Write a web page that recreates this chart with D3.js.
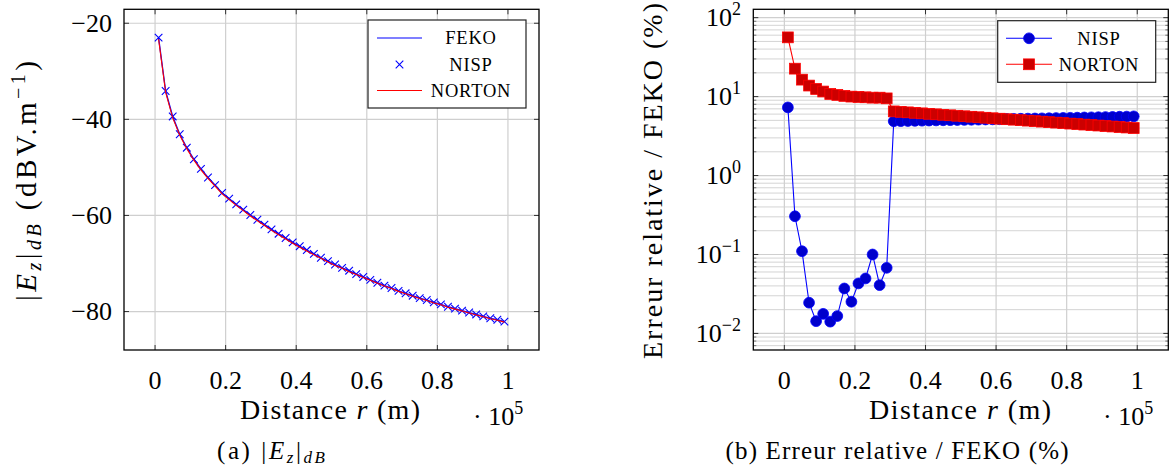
<!DOCTYPE html>
<html><head><meta charset="utf-8">
<script src="https://cdn.jsdelivr.net/npm/d3@7"></script>
<style>
body{margin:0;background:#fff}
svg{display:block}
</style>
</head><body>
<svg id="c" width="1170" height="471" font-family="'Liberation Serif', 'DejaVu Serif', serif"></svg>
<script>
// ---------- data (distance in units of 1e5 m) ----------
const distance = [0.01,0.03,0.05,0.07,0.09,0.11,0.13,0.15,0.17,0.19,
  0.21,0.23,0.25,0.27,0.29,0.31,0.33,0.35,0.37,0.39,
  0.41,0.43,0.45,0.47,0.49,0.51,0.53,0.55,0.57,0.59,
  0.61,0.63,0.65,0.67,0.69,0.71,0.73,0.75,0.77,0.79,
  0.81,0.83,0.85,0.87,0.89,0.91,0.93,0.95,0.97,0.99];
const fekoDb = [-23.0,-34.1,-39.4,-43.1,-45.9,-48.3,-50.3,-52.1,-53.7,-55.3,
  -56.5,-57.7,-58.8,-59.9,-60.9,-61.9,-62.9,-63.8,-64.7,-65.6,
  -66.4,-67.2,-68.0,-68.8,-69.5,-70.2,-70.9,-71.5,-72.2,-72.8,
  -73.4,-74.0,-74.6,-75.1,-75.7,-76.2,-76.7,-77.2,-77.6,-78.1,
  -78.5,-79.0,-79.4,-79.8,-80.2,-80.6,-81.0,-81.4,-81.7,-82.1];
const nispDb = [-23.0,-34.1,-39.4,-43.1,-45.9,-48.3,-50.3,-52.1,-53.7,-55.3,
  -56.5,-57.7,-58.8,-59.9,-60.9,-61.9,-62.9,-63.8,-64.7,-65.6,
  -66.4,-67.2,-68.0,-68.8,-69.5,-70.2,-70.9,-71.5,-72.2,-72.8,
  -73.4,-74.0,-74.6,-75.1,-75.7,-76.2,-76.7,-77.2,-77.6,-78.1,
  -78.5,-79.0,-79.4,-79.8,-80.2,-80.6,-81.0,-81.4,-81.7,-82.1];
const nortonDb = [-23.3,-34.4,-39.7,-43.3,-46.1,-48.5,-50.5,-52.3,-53.9,-55.5,
  -56.7,-57.9,-59.0,-60.1,-61.1,-62.1,-63.1,-64.0,-64.9,-65.8,
  -66.6,-67.4,-68.2,-68.9,-69.7,-70.4,-71.0,-71.7,-72.3,-72.9,
  -73.5,-74.1,-74.7,-75.2,-75.8,-76.3,-76.8,-77.3,-77.7,-78.2,
  -78.6,-79.1,-79.5,-79.9,-80.3,-80.7,-81.1,-81.5,-81.8,-82.2];
const errNisp = [7.3,0.305,0.110,0.0245,0.0143,0.0177,0.0141,0.0166,0.0371,0.0252,
  0.043,0.0497,0.100,0.0409,0.0678,4.87,4.89,4.91,4.93,4.95,
  4.97,4.99,5.01,5.03,5.05,5.07,5.09,5.11,5.13,5.15,
  5.17,5.20,5.22,5.24,5.26,5.28,5.30,5.32,5.35,5.37,
  5.39,5.41,5.44,5.46,5.48,5.51,5.53,5.56,5.58,5.62];
const errNorton = [56.3,22.6,16.4,13.8,12.5,11.6,10.8,10.5,10.2,10.0,
  9.9,9.8,9.7,9.7,9.5,6.50,6.41,6.32,6.23,6.14,
  6.05,5.97,5.88,5.80,5.72,5.64,5.56,5.48,5.40,5.32,
  5.25,5.17,5.10,5.03,4.96,4.89,4.82,4.75,4.68,4.62,
  4.55,4.49,4.42,4.36,4.30,4.24,4.18,4.12,4.06,4.00];
const xTicks = [0,0.2,0.4,0.6,0.8,1];
const xTickLabels = ["0","0.2","0.4","0.6","0.8","1"];
const yTicksDb = [-20,-40,-60,-80];
const yTicksErr = [1e2,1e1,1e0,1e-1,1e-2];
const yTickErrExp = ["2","1","0","\u22121","\u22122"];
const legendLeft = ["FEKO","NISP","NORTON"];
const legendRight = ["NISP","NORTON"];

// ---------- drawing ----------
const svg = d3.select("#c");
const GRID = "#cfcfcf";
const FS = 26;

function frame(g, x0, x1, y0, y1){
  g.append("rect").attr("x",x0).attr("y",y1).attr("width",x1-x0).attr("height",y0-y1)
    .attr("fill","none").attr("stroke","#000").attr("stroke-width",1.3);
}

// ===== left chart =====
const L = {x0:124, x1:539, y0:350, y1:9.3};
const xL = d3.scaleLinear().domain([-0.088,1.088]).range([L.x0,L.x1]);
const yL = d3.scaleLinear().domain([-88.0,-17.1]).range([L.y0,L.y1]);
const gL = svg.append("g");

xTicks.forEach(t=>gL.append("line").attr("x1",xL(t)).attr("x2",xL(t)).attr("y1",L.y0).attr("y2",L.y1)
  .attr("stroke",GRID).attr("stroke-width",1.2));
yTicksDb.forEach(t=>gL.append("line").attr("x1",L.x0).attr("x2",L.x1).attr("y1",yL(t)).attr("y2",yL(t))
  .attr("stroke",GRID).attr("stroke-width",1.2));
xTicks.forEach(t=>{
  gL.append("line").attr("x1",xL(t)).attr("x2",xL(t)).attr("y1",L.y0).attr("y2",L.y0-5).attr("stroke","#333");
  gL.append("line").attr("x1",xL(t)).attr("x2",xL(t)).attr("y1",L.y1).attr("y2",L.y1+5).attr("stroke","#333");
});
yTicksDb.forEach(t=>{
  gL.append("line").attr("x1",L.x0).attr("x2",L.x0+5).attr("y1",yL(t)).attr("y2",yL(t)).attr("stroke","#333");
  gL.append("line").attr("x1",L.x1).attr("x2",L.x1-5).attr("y1",yL(t)).attr("y2",yL(t)).attr("stroke","#333");
});
xTicks.forEach((t,i)=>gL.append("text").attr("x",xL(t)).attr("y",389).attr("text-anchor","middle")
  .attr("font-size",FS).text(xTickLabels[i]));
yTicksDb.forEach(t=>gL.append("text").attr("x",112).attr("y",yL(t)).attr("dy","0.33em").attr("text-anchor","end")
  .attr("font-size",FS).text(String(t).replace("-","\u2212")));

const lineL = d3.line().x(d=>xL(d[0])).y(d=>yL(d[1]));
gL.append("path").attr("d",lineL(distance.map((d,i)=>[d,fekoDb[i]])))
  .attr("fill","none").attr("stroke","#0000ff").attr("stroke-width",1.3);
const xm = 3.8;
distance.forEach((d,i)=>{
  const cx=xL(d), cy=yL(nispDb[i]);
  gL.append("path").attr("d",`M${cx-xm},${cy-xm}L${cx+xm},${cy+xm}M${cx-xm},${cy+xm}L${cx+xm},${cy-xm}`)
    .attr("stroke","#0000ff").attr("stroke-width",1.1).attr("fill","none");
});
gL.append("path").attr("d",lineL(distance.map((d,i)=>[d,nortonDb[i]])))
  .attr("fill","none").attr("stroke","#ff0000").attr("stroke-width",1.1);
frame(gL, L.x0, L.x1, L.y0, L.y1);

gL.append("rect").attr("x",368).attr("y",20).attr("width",158).attr("height",88)
  .attr("fill","#fff").attr("stroke","#222").attr("stroke-width",1.2);
const legY = [38, 64.5, 90.5];
gL.append("line").attr("x1",377).attr("x2",422).attr("y1",legY[0]).attr("y2",legY[0]).attr("stroke","#0000ff").attr("stroke-width",1.2);
gL.append("path").attr("d",`M${399.5-xm},${legY[1]-xm}L${399.5+xm},${legY[1]+xm}M${399.5-xm},${legY[1]+xm}L${399.5+xm},${legY[1]-xm}`)
  .attr("stroke","#0000ff").attr("stroke-width",1.1);
gL.append("line").attr("x1",377).attr("x2",422).attr("y1",legY[2]).attr("y2",legY[2]).attr("stroke","#ff0000").attr("stroke-width",1.2);
legendLeft.forEach((s,i)=>gL.append("text").attr("x",471).attr("y",legY[i]).attr("dy","0.35em")
  .attr("text-anchor","middle").attr("font-size",18.5).attr("letter-spacing",0.8).text(s));

const tL = gL.append("text").attr("x",330).attr("y",419).attr("text-anchor","middle").attr("font-size",28)
  .attr("textLength",180).attr("lengthAdjust","spacing");
tL.append("tspan").text("Distance ");
tL.append("tspan").attr("font-style","italic").text("r");
tL.append("tspan").text(" (m)");
function scaleLabel(g,x){
  const t=g.append("text").attr("x",x).attr("y",425).attr("font-size",FS);
  t.append("tspan").text("\u00b7 10");
  t.append("tspan").attr("font-size",18).attr("dy",-11).text("5");
}
scaleLabel(gL, 473);

const yt = gL.append("text").attr("transform","translate(36,181) rotate(-90)")
  .attr("text-anchor","middle").attr("font-size",29).attr("textLength",240).attr("lengthAdjust","spacing");
yt.append("tspan").text("|");
yt.append("tspan").attr("font-style","italic").text("E");
yt.append("tspan").attr("font-style","italic").attr("font-size",20).attr("dy",5).text("z");
yt.append("tspan").attr("dy",-5).text("|");
yt.append("tspan").attr("font-style","italic").attr("font-size",20).attr("dy",5).text("dB");
yt.append("tspan").attr("dy",-5).text(" (dBV.m");
yt.append("tspan").attr("font-size",20).attr("dy",-11).text("\u22121");
yt.append("tspan").attr("dy",11).text(")");

const ca = gL.append("text").attr("x",271).attr("y",459).attr("text-anchor","middle").attr("font-size",25)
  .attr("textLength",108).attr("lengthAdjust","spacing");
ca.append("tspan").text("(a) |");
ca.append("tspan").attr("font-style","italic").text("E");
ca.append("tspan").attr("font-style","italic").attr("font-size",17).attr("dy",4).text("z");
ca.append("tspan").attr("dy",-4).text("|");
ca.append("tspan").attr("font-style","italic").attr("font-size",17).attr("dy",4).text("dB");

// ===== right chart =====
const R = {x0:753.3, x1:1168.3, y0:350, y1:9.3};
const xR = d3.scaleLinear().domain([-0.088,1.088]).range([R.x0,R.x1]);
const yR = d3.scaleLog().domain([Math.pow(10,-2.21),Math.pow(10,2.106)]).range([R.y0,R.y1]);
const gR = svg.append("g");
const [dlo,dhi] = yR.domain();
const minor=[];
for(let e=-3;e<=2;e++) for(let k=2;k<=9;k++){const v=k*Math.pow(10,e); if(v>dlo&&v<dhi) minor.push(v);}
minor.forEach(v=>gR.append("line").attr("x1",R.x0).attr("x2",R.x1).attr("y1",yR(v)).attr("y2",yR(v))
  .attr("stroke",GRID).attr("stroke-width",0.9));
xTicks.forEach(t=>gR.append("line").attr("x1",xR(t)).attr("x2",xR(t)).attr("y1",R.y0).attr("y2",R.y1)
  .attr("stroke",GRID).attr("stroke-width",1.2));
yTicksErr.forEach(t=>gR.append("line").attr("x1",R.x0).attr("x2",R.x1).attr("y1",yR(t)).attr("y2",yR(t))
  .attr("stroke",GRID).attr("stroke-width",1.2));
xTicks.forEach(t=>{
  gR.append("line").attr("x1",xR(t)).attr("x2",xR(t)).attr("y1",R.y0).attr("y2",R.y0-5).attr("stroke","#333");
  gR.append("line").attr("x1",xR(t)).attr("x2",xR(t)).attr("y1",R.y1).attr("y2",R.y1+5).attr("stroke","#333");
});
yTicksErr.forEach(t=>{
  gR.append("line").attr("x1",R.x0).attr("x2",R.x0+5).attr("y1",yR(t)).attr("y2",yR(t)).attr("stroke","#333");
  gR.append("line").attr("x1",R.x1).attr("x2",R.x1-5).attr("y1",yR(t)).attr("y2",yR(t)).attr("stroke","#333");
});
minor.forEach(v=>{
  gR.append("line").attr("x1",R.x0).attr("x2",R.x0+3).attr("y1",yR(v)).attr("y2",yR(v)).attr("stroke","#555").attr("stroke-width",0.8);
  gR.append("line").attr("x1",R.x1).attr("x2",R.x1-3).attr("y1",yR(v)).attr("y2",yR(v)).attr("stroke","#555").attr("stroke-width",0.8);
});
xTicks.forEach((t,i)=>gR.append("text").attr("x",xR(t)).attr("y",389).attr("text-anchor","middle")
  .attr("font-size",FS).text(xTickLabels[i]));
yTicksErr.forEach((t,i)=>{
  const tx = gR.append("text").attr("x",741).attr("y",yR(t)).attr("dy","0.33em").attr("text-anchor","end").attr("font-size",FS);
  tx.append("tspan").text("10");
  tx.append("tspan").attr("font-size",18).attr("dy",-11).text(yTickErrExp[i]);
});

const lineR = d3.line().x(d=>xR(d[0])).y(d=>yR(d[1]));
gR.append("path").attr("d",lineR(distance.map((d,i)=>[d,errNisp[i]])))
  .attr("fill","none").attr("stroke","#0000ff").attr("stroke-width",1.1);
distance.forEach((d,i)=>gR.append("circle").attr("cx",xR(d)).attr("cy",yR(errNisp[i])).attr("r",5.4)
  .attr("fill","#0000cc").attr("stroke","#0000ff").attr("stroke-width",0.8));
gR.append("path").attr("d",lineR(distance.map((d,i)=>[d,errNorton[i]])))
  .attr("fill","none").attr("stroke","#ff0000").attr("stroke-width",1.1);
const sq = 5.4;
distance.forEach((d,i)=>gR.append("rect").attr("x",xR(d)-sq).attr("y",yR(errNorton[i])-sq)
  .attr("width",2*sq).attr("height",2*sq).attr("fill","#cc0000").attr("stroke","#ff0000").attr("stroke-width",0.8));
frame(gR, R.x0, R.x1, R.y0, R.y1);

gR.append("rect").attr("x",997.7).attr("y",20.7).attr("width",158).attr("height",61.6)
  .attr("fill","#fff").attr("stroke","#222").attr("stroke-width",1.2);
const legRY=[38.3,64.3];
gR.append("line").attr("x1",1006).attr("x2",1052).attr("y1",legRY[0]).attr("y2",legRY[0]).attr("stroke","#0000ff").attr("stroke-width",1.1);
gR.append("circle").attr("cx",1029).attr("cy",legRY[0]).attr("r",5.4).attr("fill","#0000cc").attr("stroke","#0000ff").attr("stroke-width",0.8);
gR.append("line").attr("x1",1006).attr("x2",1052).attr("y1",legRY[1]).attr("y2",legRY[1]).attr("stroke","#ff0000").attr("stroke-width",1.1);
gR.append("rect").attr("x",1029-sq).attr("y",legRY[1]-sq).attr("width",2*sq).attr("height",2*sq).attr("fill","#cc0000").attr("stroke","#ff0000").attr("stroke-width",0.8);
legendRight.forEach((s,i)=>gR.append("text").attr("x",1099).attr("y",legRY[i]).attr("dy","0.35em")
  .attr("text-anchor","middle").attr("font-size",18.5).attr("letter-spacing",0.8).text(s));

const tR = gR.append("text").attr("x",960).attr("y",419).attr("text-anchor","middle").attr("font-size",28)
  .attr("textLength",182).attr("lengthAdjust","spacing");
tR.append("tspan").text("Distance ");
tR.append("tspan").attr("font-style","italic").text("r");
tR.append("tspan").text(" (m)");
scaleLabel(gR, 1103);

gR.append("text").attr("transform","translate(662,181) rotate(-90)").attr("text-anchor","middle")
  .attr("font-size",28).attr("textLength",356).attr("lengthAdjust","spacing").text("Erreur relative / FEKO (%)");
gR.append("text").attr("x",897).attr("y",459).attr("text-anchor","middle").attr("font-size",25)
  .attr("textLength",343).attr("lengthAdjust","spacing").text("(b) Erreur relative / FEKO (%)");
</script>
</body></html>
